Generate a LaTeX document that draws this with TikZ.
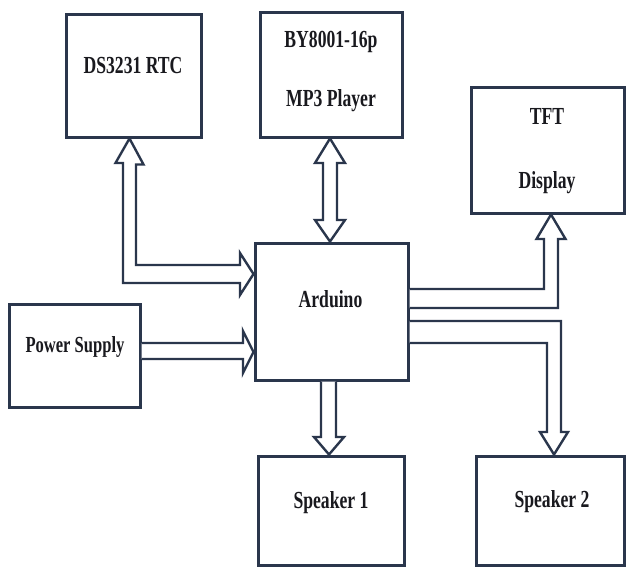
\documentclass[tikz,border=0pt]{standalone}
\usepackage{fontspec}
\usepackage{graphicx}
\usetikzlibrary{calc}
\setmainfont{Liberation Serif}
\definecolor{navy}{RGB}{42,54,76}
\definecolor{ink}{RGB}{25,25,30}
\newcommand{\lbl}[2][24.5]{\scalebox{0.72}[1]{\fontsize{#1}{#1}\selectfont\bfseries #2}}
\tikzset{
  blk/.style={draw=navy, line width=3pt, fill=white, inner sep=0pt, minimum width=#1},
  txt/.style={text=ink, inner sep=0pt, anchor=base},
  harrow/.style={draw=navy, line width=2.4pt, line join=miter, fill=white}
}
\begin{document}
\begin{tikzpicture}[x=1pt,y=-1pt]
\useasboundingbox (0,0) rectangle (628,568);
\fill[white] (0,0) rectangle (628,568);
% boxes
\node[blk=135pt, minimum height=123pt] (ds)  at (133.5,75.5) {};
\node[blk=142pt, minimum height=125pt] (by)  at (331,74.5) {};
\node[blk=153pt, minimum height=126pt] (tft) at (547.5,150) {};
\node[blk=153pt, minimum height=137pt] (ard) at (331.5,311.5) {};
\node[blk=131pt, minimum height=103pt] (ps)  at (74.5,355.5) {};
\node[blk=146pt, minimum height=109pt] (sp1) at (331,510.5) {};
\node[blk=148pt, minimum height=109pt] (sp2) at (550,510.5) {};
% labels
\node[txt] (tds)  at (133,73) {\lbl{DS3231 RTC}};
\node[txt] (tby1) at (331,47) {\lbl{BY8001-16p}};
\node[txt] (tby2) at (331,106) {\lbl{MP3 Player}};
\node[txt] (ttf1) at (547,124) {\lbl{TFT}};
\node[txt] (ttf2) at (547,188) {\lbl{Display}};
\node[txt] (tard) at (330.5,307) {\lbl{Arduino}};
\node[txt] (tps)  at (75,352) {\lbl[23]{Power Supply}};
\node[txt] (tsp1) at (331,508) {\lbl{Speaker 1}};
\node[txt] (tsp2) at (552,507) {\lbl{Speaker 2}};
% DS3231 <-> Arduino (L-shaped, two heads)
\draw[harrow] ($(ds.south)+(-4,0)$) -- ++(14,26) -- ++(-7.5,0) -- (136,265) -- (240,265) -- (240,253)
  -- (ard.west |- 0,274) -- (240,295) -- (240,283) -- (123,283) -- (123,163) -- (115.5,163) -- cycle;
% MP3 <-> Arduino
\draw[harrow] (by.south -| 330,0) -- (345,163) -- (337,163) -- (337,220) -- (345,220) -- (ard.north -| 330,0)
  -- (315,220) -- (323,220) -- (323,163) -- (315,163) -- cycle;
% Power Supply -> Arduino
\draw[harrow] (ps.east |- 0,343) -- (243,343) -- (243,331) -- (ard.west |- 0,352) -- (243,373) -- (243,359) -- (ps.east |- 0,359);
% Arduino -> Speaker 1
\draw[harrow] (ard.south -| 321,0) -- (321,437) -- (314,437) -- (sp1.north -| 329,0) -- (344,437) -- (336,437) -- (ard.south -| 336,0);
% Arduino -> TFT
\draw[harrow] (ard.east |- 0,289) -- (544,289) -- (544,239) -- (536.5,239) -- (tft.south -| 551,0) -- (565.5,239) -- (558,239) -- (558,308) -- (ard.east |- 0,308);
% Arduino -> Speaker 2
\draw[harrow] (ard.east |- 0,321) -- (561,321) -- (561,432) -- (568,432) -- (sp2.north -| 554,0) -- (540,432) -- (547,432) -- (547,343) -- (ard.east |- 0,343);
\end{tikzpicture}
\end{document}
